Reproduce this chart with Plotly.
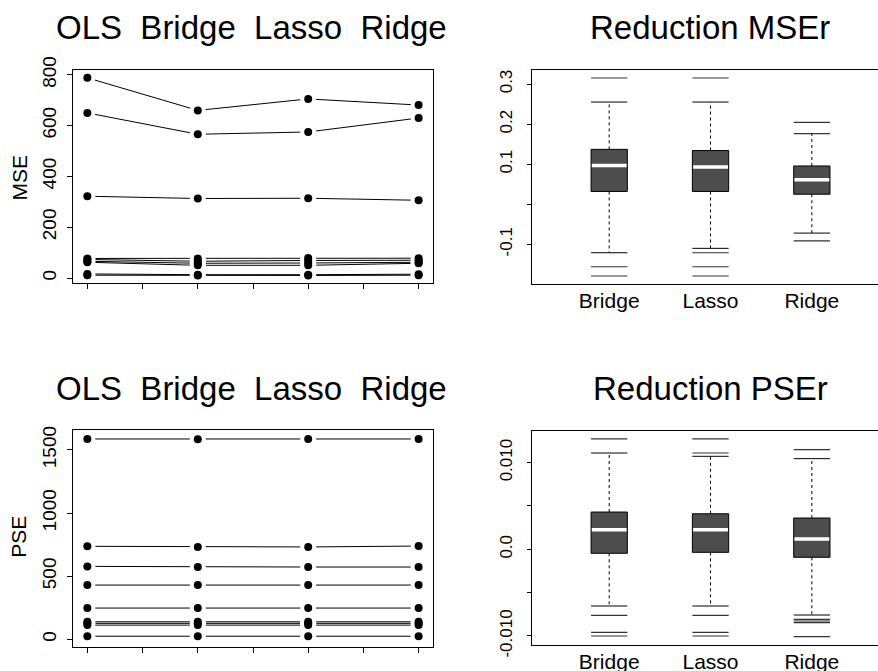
import plotly.graph_objects as go

# ---------------- data ----------------
methods_all = ["OLS", "Bridge", "Lasso", "Ridge"]
methods_red = ["Bridge", "Lasso", "Ridge"]

# MSE per simulation setting (rows) for each method
mse_ols    = [788, 650, 322, 77, 73, 66, 62, 16, 11]
mse_bridge = [660, 566, 313, 77, 66, 58, 50, 13, 10]
mse_lasso  = [705, 575, 314, 79, 69, 59, 50, 13, 10]
mse_ridge  = [681, 630, 306, 78, 70, 62, 58, 15, 11]

# PSE per simulation setting for each method
pse_ols    = [1587, 737, 578, 430, 248, 139, 127, 113, 25]
pse_bridge = [1585, 732, 573, 430, 248, 139, 127, 113, 25]
pse_lasso  = [1587, 732, 573, 430, 248, 139, 127, 113, 25]
pse_ridge  = [1587, 739, 573, 430, 248, 139, 127, 113, 25]

# Boxplot statistics: reduction of MSE
mser_q1  = [0.032, 0.032, 0.025]
mser_med = [0.097, 0.093, 0.061]
mser_q3  = [0.137, 0.134, 0.0955]
mser_lo  = [-0.121, -0.110, -0.072]
mser_hi  = [0.255, 0.255, 0.176]
mser_out = [[0.315, -0.156, -0.179],
            [0.315, -0.121, -0.156, -0.179],
            [0.2045, -0.0915]]

# Boxplot statistics: reduction of PSE
pser_q1  = [-0.00046, -0.00035, -0.00092]
pser_med = [0.00226, 0.00226, 0.00119]
pser_q3  = [0.0043, 0.0041, 0.00361]
pser_lo  = [-0.00654, -0.00654, -0.00758]
pser_hi  = [0.01111, 0.01073, 0.01046]
pser_out = [[0.01273, -0.00762, -0.00958, -0.0100],
            [0.01273, 0.01111, -0.00762, -0.00958, -0.0100],
            [0.0115, -0.00808, -0.00827, -0.00846, -0.01008]]

# ---------------- figure ----------------
W, H = 878, 671
FONT = "Liberation Sans, Arial, Helvetica, sans-serif"
fig = go.Figure()

def px_x(p):
    return p / W

def px_y(p):
    return 1 - p / H

def profile_panel(cols, xa, ya):
    xs = list(range(1, len(methods_all) + 1))
    n = len(cols[0])
    allx, ally = [], []
    for k in range(n):
        ys = [c[k] for c in cols]
        fig.add_trace(go.Scatter(x=xs, y=ys, mode="lines", xaxis=xa, yaxis=ya,
                                 line=dict(color="black", width=1),
                                 showlegend=False, hoverinfo="skip"))
        allx += xs
        ally += ys
    # white halos produce the gaps of R's type="b"
    fig.add_trace(go.Scatter(x=allx, y=ally, mode="markers", xaxis=xa, yaxis=ya,
                             marker=dict(color="white", size=16, line=dict(width=0)),
                             showlegend=False, hoverinfo="skip"))
    fig.add_trace(go.Scatter(x=allx, y=ally, mode="markers", xaxis=xa, yaxis=ya,
                             marker=dict(color="black", size=8, line=dict(width=0)),
                             showlegend=False, hoverinfo="skip"))

def box_panel(q1, med, q3, lo, hi, out, xa, ya):
    hw = 0.179
    for i in range(len(methods_red)):
        c = i + 1
        fig.add_trace(go.Scatter(x=[c, c, None, c, c], y=[q3[i], hi[i], None, q1[i], lo[i]],
                                 mode="lines", xaxis=xa, yaxis=ya,
                                 line=dict(color="black", width=1, dash="dot"),
                                 showlegend=False, hoverinfo="skip"))
        fig.add_trace(go.Scatter(x=[c - hw, c + hw, c + hw, c - hw, c - hw],
                                 y=[q1[i], q1[i], q3[i], q3[i], q1[i]],
                                 mode="lines", fill="toself", fillcolor="#4d4d4d",
                                 xaxis=xa, yaxis=ya,
                                 line=dict(color="black", width=1),
                                 showlegend=False, hoverinfo="skip"))
        fig.add_trace(go.Scatter(x=[c - hw * 0.96, c + hw * 0.96], y=[med[i], med[i]],
                                 mode="lines", xaxis=xa, yaxis=ya,
                                 line=dict(color="white", width=3.5),
                                 showlegend=False, hoverinfo="skip"))
        fig.add_trace(go.Scatter(x=[c - hw, c + hw, None, c - hw, c + hw],
                                 y=[hi[i], hi[i], None, lo[i], lo[i]],
                                 mode="lines", xaxis=xa, yaxis=ya,
                                 line=dict(color="black", width=1),
                                 showlegend=False, hoverinfo="skip"))
        ox, oy = [], []
        for v in out[i]:
            ox += [c - hw, c + hw, None]
            oy += [v, v, None]
        fig.add_trace(go.Scatter(x=ox, y=oy, mode="lines", xaxis=xa, yaxis=ya,
                                 line=dict(color="#333333", width=1.2),
                                 showlegend=False, hoverinfo="skip"))

profile_panel([mse_ols, mse_bridge, mse_lasso, mse_ridge], "x", "y")
box_panel(mser_q1, mser_med, mser_q3, mser_lo, mser_hi, mser_out, "x2", "y2")
profile_panel([pse_ols, pse_bridge, pse_lasso, pse_ridge], "x3", "y3")
box_panel(pser_q1, pser_med, pser_q3, pser_lo, pser_hi, pser_out, "x4", "y4")

left_dom = [px_x(73), px_x(433)]
right_dom = [px_x(532), 1.0]
top_dom_l = [px_y(283), px_y(70)]
top_dom_r = [px_y(284), px_y(70)]
bot_dom_l = [px_y(646.7), px_y(430)]
bot_dom_r = [px_y(645), px_y(431)]

tickfont_l = dict(family=FONT, size=19, color="black")
tickfont_r = dict(family=FONT, size=17, color="black")

common_prof_x = dict(range=[0.87, 4.13], showline=True, mirror=True, linecolor="black",
                     linewidth=1, ticks="outside", ticklen=5, tickcolor="black",
                     tickvals=[1, 1.5, 2, 2.5, 3, 3.5, 4], showticklabels=False,
                     showgrid=False, zeroline=False)
common_box_x = dict(range=[0.238, 3.653], showline=True, mirror=True, linecolor="black",
                    linewidth=1, ticks="", ticklen=0, tickvals=[1, 2, 3], ticktext=methods_red,
                    tickfont=dict(family=FONT, size=21, color="black"),
                    ticklabelstandoff=-2,
                    showgrid=False, zeroline=False)

fig.update_layout(
    width=W, height=H, margin=dict(l=0, r=0, t=0, b=0, autoexpand=False),
    paper_bgcolor="white", plot_bgcolor="white", showlegend=False,
    font=dict(family=FONT, color="black"),
    xaxis=dict(domain=left_dom, anchor="y", **common_prof_x),
    yaxis=dict(domain=top_dom_l, anchor="x", range=[-19.7, 819],
               tickvals=[0, 200, 400, 600, 800], tickangle=-90, tickfont=tickfont_l,
               showline=True, mirror=True, linecolor="black", linewidth=1,
               ticks="outside", ticklen=5, tickcolor="black", ticklabelstandoff=3,
               showgrid=False, zeroline=False),
    xaxis2=dict(domain=right_dom, anchor="y2", **common_box_x),
    yaxis2=dict(domain=top_dom_r, anchor="x2", range=[-0.199, 0.335],
                tickvals=[-0.1, 0.0, 0.1, 0.2, 0.3], ticktext=["-0.1", "", "0.1", "0.2", "0.3"],
                tickangle=-90, tickfont=tickfont_r,
                showline=True, mirror=False, linecolor="black", linewidth=1,
                ticks="outside", ticklen=4, tickcolor="black", ticklabelstandoff=8,
                showgrid=False, zeroline=False),
    xaxis3=dict(domain=left_dom, anchor="y3", **common_prof_x),
    yaxis3=dict(domain=bot_dom_l, anchor="x3", range=[-58, 1658],
                tickvals=[0, 500, 1000, 1500], tickangle=-90, tickfont=tickfont_l,
                showline=True, mirror=True, linecolor="black", linewidth=1,
                ticks="outside", ticklen=5, tickcolor="black", ticklabelstandoff=3,
                showgrid=False, zeroline=False),
    xaxis4=dict(domain=right_dom, anchor="y4", **common_box_x),
    yaxis4=dict(domain=bot_dom_r, anchor="x4", range=[-0.01104, 0.01365],
                tickvals=[-0.01, -0.005, 0.0, 0.005, 0.01],
                ticktext=["-0.010", "", "0.0", "", "0.010"],
                tickangle=-90, tickfont=tickfont_r,
                showline=True, mirror=False, linecolor="black", linewidth=1,
                ticks="outside", ticklen=4, tickcolor="black", ticklabelstandoff=8,
                showgrid=False, zeroline=False),
)

NB = "\u00a0"
title_prof = ("OLS" + NB * 2 + "Bridge" + NB * 2 + "Lasso" + NB * 2 + "Ridge")
title_font = dict(family=FONT, size=33, color="black")
ann = [
    dict(text=title_prof, x=px_x(251), y=px_y(27.3)),
    dict(text="Reduction MSEr", x=px_x(710), y=px_y(27.3)),
    dict(text=title_prof, x=px_x(251), y=px_y(388.3)),
    dict(text="Reduction PSEr", x=px_x(710), y=px_y(388.3)),
]
for a in ann:
    fig.add_annotation(xref="paper", yref="paper", xanchor="center", yanchor="middle",
                       showarrow=False, font=title_font, **a)
fig.add_annotation(text="MSE", xref="paper", yref="paper", x=px_x(19), y=px_y(177.5),
                   textangle=-90, showarrow=False, xanchor="center", yanchor="middle",
                   font=dict(family=FONT, size=21, color="black"))
fig.add_annotation(text="PSE", xref="paper", yref="paper", x=px_x(19), y=px_y(536.7),
                   textangle=-90, showarrow=False, xanchor="center", yanchor="middle",
                   font=dict(family=FONT, size=21, color="black"))

fig.write_html("out.html",
               config={"displayModeBar": False},
               post_script="document.body.style.margin='0px';document.body.style.overflow='hidden';")
